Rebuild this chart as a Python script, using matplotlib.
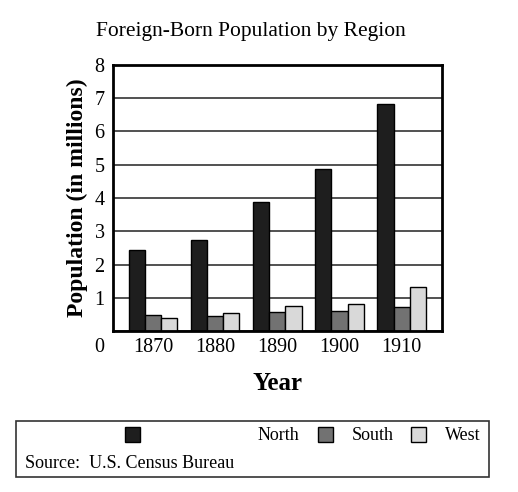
import numpy as np
import matplotlib.pyplot as plt
from matplotlib.patches import Rectangle
from matplotlib.transforms import offset_copy

years = ['1870', '1880', '1890', '1900', '1910']
regions = ['North', 'South', 'West']
north = [2.44, 2.74, 3.89, 4.86, 6.83]
south = [0.48, 0.46, 0.58, 0.60, 0.71]
west = [0.38, 0.53, 0.76, 0.81, 1.33]

colors = ['#1e1e1e', '#727272', '#d9d9d9']

plt.rcParams['font.family'] = ['Liberation Serif', 'DejaVu Serif']

fig = plt.figure(figsize=(5.18, 4.92), dpi=100)
ax = fig.add_axes([0.218, 0.327, 0.635, 0.541])

x = np.arange(len(years))
w = 0.26
for i, vals in enumerate([north, south, west]):
    ax.bar(x + (i - 1) * w, vals, width=w, color=colors[i],
           edgecolor='black', linewidth=1.0, zorder=3)

ax.set_xlim(-0.645, 4.645)
ax.set_ylim(0, 8)
ax.set_yticks(range(0, 9))
ax.set_yticklabels([str(v) for v in range(0, 9)])
ax.yaxis.grid(True, color='#333333', linewidth=1.2, zorder=0)
ax.set_xticks(x)
ax.set_xticklabels(years)
ax.tick_params(length=0, labelsize=14.5)
ax.tick_params(axis='y', pad=6)
ax.tick_params(axis='x', pad=5)
# zero label sits lower, on the line of the year labels
zero = ax.get_yticklabels()[0]
zero.set_transform(offset_copy(zero.get_transform(), fig=fig, x=0, y=-14, units='dots'))
for s in ax.spines.values():
    s.set_linewidth(2.0)
    s.set_zorder(4)

ax.set_title('Foreign-Born Population by Region', fontsize=15.5, pad=21, x=0.42)
ax.set_ylabel('Population (in millions)', fontsize=17, fontweight='bold', labelpad=5)
ax.set_xlabel('Year', fontsize=18, fontweight='bold', labelpad=11)

# legend box with source note
W, H = 518, 492
def fx(px):
    return px / W
def fy(py):
    return 1 - py / H

fig.patches.append(Rectangle((fx(16), fy(477)), fx(489) - fx(16), fy(421) - fy(477),
                             transform=fig.transFigure, facecolor='none',
                             edgecolor='#333333', linewidth=1.2))
sq_x = [125, 318, 411]
txt_x = [258, 352, 445]
for i, name in enumerate(regions):
    fig.patches.append(Rectangle((fx(sq_x[i]), fy(442)), fx(15), 15 / H,
                                 transform=fig.transFigure, facecolor=colors[i],
                                 edgecolor='black', linewidth=1.0))
    fig.text(fx(txt_x[i]), fy(435), name, fontsize=13, va='center', ha='left')
fig.text(fx(25), fy(463), 'Source:  U.S. Census Bureau', fontsize=13, va='center', ha='left')

fig.savefig('out.png', dpi=100, facecolor='white')
